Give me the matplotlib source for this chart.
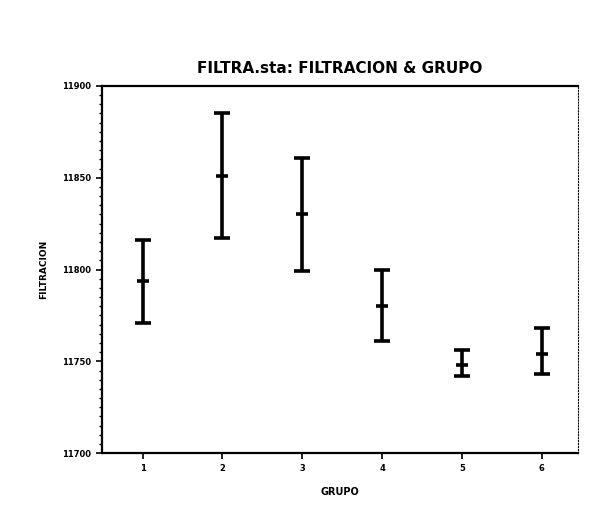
import matplotlib
matplotlib.use("Agg")
import matplotlib.pyplot as plt
from matplotlib.ticker import MultipleLocator

# datos
grupos = [1, 2, 3, 4, 5, 6]
media = [11794, 11851, 11830, 11780, 11748, 11754]
superior = [11816, 11885, 11861, 11800, 11756, 11768]
inferior = [11771, 11817, 11799, 11761, 11742, 11743]
y_ticks = [11700, 11750, 11800, 11850, 11900]
y_labels = ["11700", "11750", "11800", "11850", "11900"]

err_low = [m - lo for m, lo in zip(media, inferior)]
err_high = [hi - m for m, hi in zip(media, superior)]

fig = plt.figure(figsize=(5.89, 5.27), dpi=100)
ax = fig.add_axes([0.173, 0.140, 0.808, 0.697])

# barras de error con marcador en la media
ax.errorbar(grupos, media, yerr=[err_low, err_high], fmt="_", color="black",
            ecolor="black", elinewidth=2.6, capsize=6, capthick=2.6,
            markersize=8, markeredgewidth=2.6)

ax.set_xlim(0.49, 6.45)
ax.set_ylim(11700, 11900)
ax.set_xticks(grupos)
ax.set_xticklabels([str(g) for g in grupos], fontsize=6, fontweight="bold")
ax.set_yticks(y_ticks)
ax.set_yticklabels(y_labels, fontsize=6, fontweight="bold")
ax.yaxis.set_minor_locator(MultipleLocator(5))
ax.tick_params(axis="both", which="major", direction="out", length=4, width=1.2)
ax.tick_params(axis="y", which="minor", direction="out", length=2, width=1)

for side in ["left", "bottom", "top"]:
    ax.spines[side].set_linewidth(1.6)
ax.spines["right"].set_linewidth(0.8)
ax.spines["right"].set_linestyle(":")

ax.set_title("FILTRA.sta: FILTRACION & GRUPO", fontsize=11, fontweight="bold",
             pad=9, family="Liberation Sans Narrow")
ax.set_xlabel("GRUPO", fontsize=7, fontweight="bold", labelpad=10)
ax.set_ylabel("FILTRACION", fontsize=6.5, fontweight="bold", labelpad=10)

fig.savefig("out.png", dpi=100)
